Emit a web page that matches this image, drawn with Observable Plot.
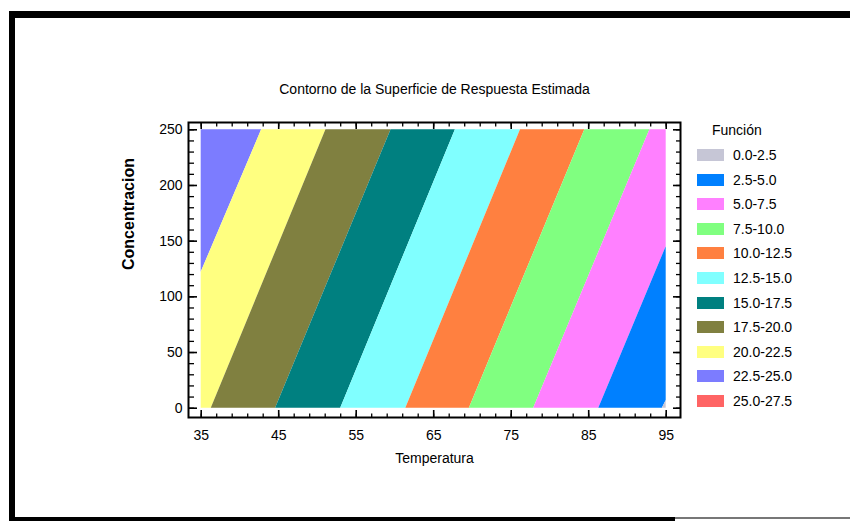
<!DOCTYPE html>
<html>
<head>
<meta charset="utf-8">
<script src="https://cdn.jsdelivr.net/npm/d3@7"></script>
<script src="https://cdn.jsdelivr.net/npm/@observablehq/plot@0.6"></script>
<style>
  html, body { margin: 0; padding: 0; background: #fff; }
  body { width: 850px; height: 521px; overflow: hidden; position: relative;
         font-family: "Liberation Sans", Arial, sans-serif; }
  #bleft { position: absolute; left: 9px; top: 11px; width: 6px; height: 510px; background: #000; }
  #btop { position: absolute; left: 9px; top: 11px; width: 841px; height: 7px; background: #000; }
  #bbot { position: absolute; left: 9px; top: 517px; width: 666px; height: 4px; background: #000; }
  #bbot2 { position: absolute; left: 675px; top: 517px; width: 175px; height: 2px; background: #777; }
  #chart { position: absolute; left: 0; top: 0; }
  #legend { position: absolute; left: 0; top: 0; width: 850px; height: 521px; pointer-events: none; }
  .lg-title { position: absolute; left: 712px; top: 121px; font-size: 14px; line-height: 18px; color: #000; }
  .lg-sw { position: absolute; left: 697px; width: 27px; height: 12px; }
  .lg-tx { position: absolute; left: 733px; font-size: 14px; line-height: 18px; color: #000; }
</style>
</head>
<body>
<div id="bleft"></div><div id="btop"></div><div id="bbot"></div><div id="bbot2"></div>
<div id="chart"></div>
<div id="legend"></div>
<script>
// ---- data ----
const chartTitle = "Contorno de la Superficie de Respuesta Estimada";
const xLabel = "Temperatura";
const yLabel = "Concentracion";
const legendTitle = "Función";
const legendLabels = ["0.0-2.5", "2.5-5.0", "5.0-7.5", "7.5-10.0", "10.0-12.5", "12.5-15.0",
                      "15.0-17.5", "17.5-20.0", "20.0-22.5", "22.5-25.0", "25.0-27.5"];
const bandColors = ["#c6c6d6", "#0080ff", "#ff80ff", "#80ff80", "#ff8040", "#80ffff",
                    "#008080", "#808040", "#ffff80", "#7c7cff", "#ff6464"];
// contour boundary lines: level, start point and end point (Temperatura, Concentracion)
const boundaryLevel = [22.5, 20, 17.5, 15, 12.5, 10, 7.5, 5, 2.5];
const startT = [35, 36.3, 44.6, 53.0, 61.4, 69.6, 77.9, 86.3, 94.5];
const startC = [122, 0, 0, 0, 0, 0, 0, 0, 0];
const endT   = [42.8, 51.1, 59.5, 67.8, 76.2, 84.5, 92.9, 95, 95];
const endC   = [250, 250, 250, 250, 250, 250, 250, 145, 7];
const xDomain = [35, 95];
const yDomain = [0, 250];
const xTicks = [35, 45, 55, 65, 75, 85, 95];
const xMinor = d3.range(35, 96, 2);
const yTicks = [0, 50, 100, 150, 200, 250];
const yMinor = d3.range(0, 251, 10);

// ---- build band polygons (areas) from boundary lines ----
function xAt(k, c) {
  if (k === "L") return xDomain[0];
  if (k === "R") return xDomain[1];
  const t = startT[k] + (c - startC[k]) * (endT[k] - startT[k]) / (endC[k] - startC[k]);
  return Math.max(xDomain[0], Math.min(xDomain[1], t));
}
const sampleC = Array.from(new Set([yDomain[0], yDomain[1], ...startC, ...endC])).sort((a, b) => a - b);
// band -> [left boundary, right boundary]; higher values are to the left
const bands = [];
boundaryLevel.forEach((lv, i) => {
  const upper = lv + 2.5;
  const label = legendLabels[Math.round(upper / 2.5) - 1];
  bands.push({label, left: i === 0 ? "L" : i - 1, right: i});
});
bands.push({label: legendLabels[0], left: boundaryLevel.length - 1, right: "R"});
const rows = [];
for (const b of bands) {
  for (const c of sampleC) {
    rows.push({band: b.label, C: c, x1: xAt(b.left, c), x2: xAt(b.right, c)});
  }
}

const font = "'Liberation Sans', Arial, sans-serif";
const chart = Plot.plot({
  width: 850,
  height: 521,
  marginLeft: 188,
  marginRight: 170,
  marginTop: 122,
  marginBottom: 104,
  style: {fontFamily: font, fontSize: "14px", color: "#000", background: "transparent", overflow: "visible"},
  x: {domain: xDomain, insetLeft: 12.7, insetRight: 14.3},
  y: {domain: yDomain, insetTop: 7.3, insetBottom: 9.3},
  color: {type: "ordinal", domain: legendLabels, range: bandColors},
  marks: [
    Plot.areaX(rows, {y: "C", x1: "x1", x2: "x2", z: "band", fill: "band", curve: "linear"}),
    Plot.frame({stroke: "#000", strokeWidth: 2}),
    // inward ticks
    Plot.axisX({anchor: "bottom", ticks: xMinor, tickSize: -3.5, text: null, label: null, strokeWidth: 1.3}),
    Plot.axisX({anchor: "bottom", ticks: xTicks, tickSize: -7, text: null, label: null, strokeWidth: 1.6}),
    Plot.axisX({anchor: "top", ticks: xMinor, tickSize: -3.5, text: null, label: null, strokeWidth: 1.3}),
    Plot.axisX({anchor: "top", ticks: xTicks, tickSize: -6, text: null, label: null, strokeWidth: 1.6}),
    Plot.axisY({anchor: "left", ticks: yMinor, tickSize: -6, text: null, label: null, strokeWidth: 1.3}),
    Plot.axisY({anchor: "left", ticks: yTicks, tickSize: -9, text: null, label: null, strokeWidth: 1.6}),
    Plot.axisY({anchor: "right", ticks: yMinor, tickSize: -5, text: null, label: null, strokeWidth: 1.3}),
    Plot.axisY({anchor: "right", ticks: yTicks, tickSize: -8, text: null, label: null, strokeWidth: 1.6}),
    // tick labels
    Plot.axisX({anchor: "bottom", ticks: xTicks, tickSize: 0, tickPadding: 13, label: null, tickFormat: d => String(d), fontSize: 14}),
    Plot.axisY({anchor: "left", ticks: yTicks, tickSize: 0, tickPadding: 6, label: null, tickFormat: d => String(d), fontSize: 14}),
    // titles
    Plot.text([chartTitle], {text: d => d, frameAnchor: "top", dy: -38, fontSize: 14}),
    Plot.text([xLabel], {text: d => d, frameAnchor: "bottom", dy: 45, fontSize: 14}),
    Plot.text([yLabel], {text: d => d, frameAnchor: "left", dx: -60, rotate: -90, fontSize: 16, fontWeight: "bold"})
  ]
});
document.getElementById("chart").appendChild(chart);

// ---- legend (swatches from the same color list) ----
const legend = d3.select("#legend");
legend.append("div").attr("class", "lg-title").text(legendTitle);
legendLabels.forEach((lab, i) => {
  const cy = 155 + i * 24.6;
  legend.append("div").attr("class", "lg-sw").style("top", (cy - 6) + "px").style("background", bandColors[i]);
  legend.append("div").attr("class", "lg-tx").style("top", (cy - 9) + "px").text(lab);
});
</script>
</body>
</html>
